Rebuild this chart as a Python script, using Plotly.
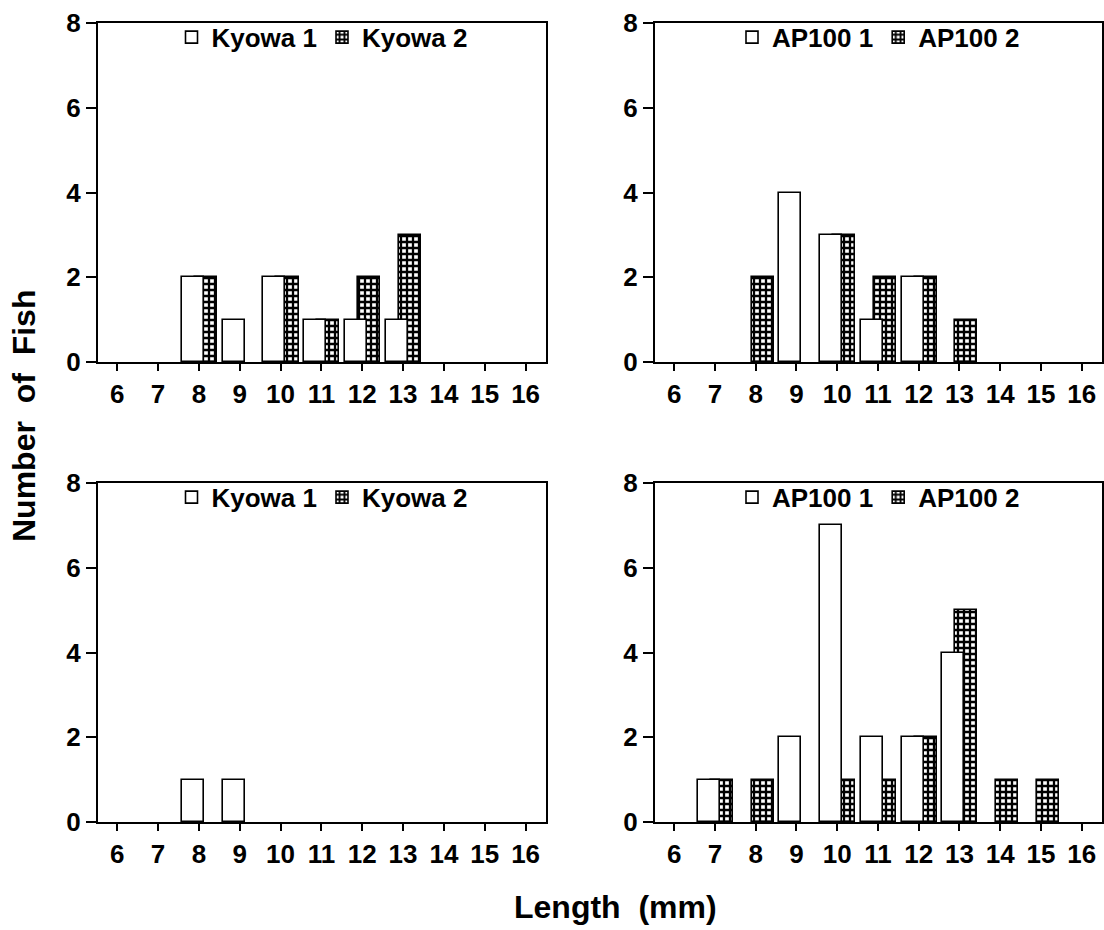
import plotly.graph_objects as go

lengths = [6, 7, 8, 9, 10, 11, 12, 13, 14, 15, 16]
y_ticks = [0, 2, 4, 6, 8]

# Top-left panel
kyowa1_top = [0, 0, 2, 1, 2, 1, 1, 1, 0, 0, 0]
kyowa2_top = [0, 0, 2, 0, 2, 1, 2, 3, 0, 0, 0]
# Top-right panel
ap1_top = [0, 0, 0, 4, 3, 1, 2, 0, 0, 0, 0]
ap2_top = [0, 0, 2, 0, 3, 2, 2, 1, 0, 0, 0]
# Bottom-left panel
kyowa1_bot = [0, 0, 1, 1, 0, 0, 0, 0, 0, 0, 0]
kyowa2_bot = [0, 0, 0, 0, 0, 0, 0, 0, 0, 0, 0]
# Bottom-right panel
ap1_bot = [0, 1, 0, 2, 7, 2, 2, 4, 0, 0, 0]
ap2_bot = [0, 1, 1, 0, 1, 1, 2, 5, 1, 1, 0]

panels = [
    ("x", "y", "legend", "Kyowa 1", "Kyowa 2", kyowa1_top, kyowa2_top),
    ("x2", "y2", "legend2", "AP100 1", "AP100 2", ap1_top, ap2_top),
    ("x3", "y3", "legend3", "Kyowa 1", "Kyowa 2", kyowa1_bot, kyowa2_bot),
    ("x4", "y4", "legend4", "AP100 1", "AP100 2", ap1_bot, ap2_bot),
]

FONT = "Liberation Sans, Arial, Helvetica, sans-serif"
fig = go.Figure()

def nz(vals):
    # empty length classes are not drawn as bars
    return [v if v else None for v in vals]

for xa, ya, lg, n1, n2, s1, s2 in panels:
    # series 2 (patterned) drawn first so series 1 overlaps it
    fig.add_trace(go.Bar(
        x=lengths, y=nz(s2), name=n2, xaxis=xa, yaxis=ya, legend=lg, legendrank=2,
        width=0.54, offset=-0.1,
        marker=dict(color="white", line=dict(color="black", width=1.6),
                    pattern=dict(shape="+", fgcolor="black", bgcolor="white",
                                 size=6, solidity=0.62, fillmode="replace")),
    ))
    fig.add_trace(go.Bar(
        x=lengths, y=nz(s1), name=n1, xaxis=xa, yaxis=ya, legend=lg, legendrank=1,
        width=0.54, offset=-0.42,
        marker=dict(color="white", line=dict(color="black", width=1.6)),
    ))

W, H = 1104, 930
left_dom = [98 / W, 546 / W]
right_dom = [655 / W, 1102 / W]
top_dom = [1 - 362 / H, 1 - 23 / H]
bot_dom = [1 - 822 / H, 1 - 483 / H]

def xaxis(dom, anchor):
    return dict(domain=dom, anchor=anchor, range=[5.53, 16.5], tickvals=lengths,
                ticks="outside", ticklen=7, tickwidth=2, tickcolor="black",
                showline=True, linecolor="black", linewidth=2, mirror=True,
                showgrid=False, zeroline=False, ticklabelstandoff=1, automargin=False,
                tickfont=dict(family=FONT, size=26, color="black", weight="bold"))

def yaxis(dom, anchor):
    return dict(domain=dom, anchor=anchor, range=[0, 8], tickvals=y_ticks,
                ticks="outside", ticklen=10, tickwidth=2, tickcolor="black",
                showline=True, linecolor="black", linewidth=2, mirror=True,
                showgrid=False, zeroline=False, automargin=False,
                tickfont=dict(family=FONT, size=26, color="black", weight="bold"))

def legend(xc, ytop):
    return dict(x=xc, y=ytop, xanchor="center", yanchor="top", orientation="h",
                bgcolor="rgba(0,0,0,0)", traceorder="normal",
                font=dict(family=FONT, size=26, color="black", weight="bold"),
                itemclick=False, itemdoubleclick=False)

fig.update_layout(
    width=W, height=H, margin=dict(l=0, r=0, t=0, b=0, autoexpand=False),
    paper_bgcolor="white", plot_bgcolor="white",
    barmode="overlay", bargap=0,
    font=dict(family=FONT, color="black", weight="bold"),
    xaxis=xaxis(left_dom, "y"), yaxis=yaxis(top_dom, "x"),
    xaxis2=xaxis(right_dom, "y2"), yaxis2=yaxis(top_dom, "x2"),
    xaxis3=xaxis(left_dom, "y3"), yaxis3=yaxis(bot_dom, "x3"),
    xaxis4=xaxis(right_dom, "y4"), yaxis4=yaxis(bot_dom, "x4"),
    legend=legend(sum(left_dom) / 2, top_dom[1] + 0.010),
    legend2=legend(sum(right_dom) / 2, top_dom[1] + 0.010),
    legend3=legend(sum(left_dom) / 2, bot_dom[1] + 0.010),
    legend4=legend(sum(right_dom) / 2, bot_dom[1] + 0.010),
    annotations=[
        dict(text="Number  of  Fish", xref="paper", yref="paper",
             x=24 / W, y=1 - 416 / H, textangle=-90, showarrow=False,
             xanchor="center", yanchor="middle",
             font=dict(family=FONT, size=32, color="black", weight="bold")),
        dict(text="Length  (mm)", xref="paper", yref="paper",
             x=615 / W, y=1 - 907 / H, showarrow=False,
             xanchor="center", yanchor="middle",
             font=dict(family=FONT, size=32, color="black", weight="bold")),
    ],
)

fig.write_html("out.html")
